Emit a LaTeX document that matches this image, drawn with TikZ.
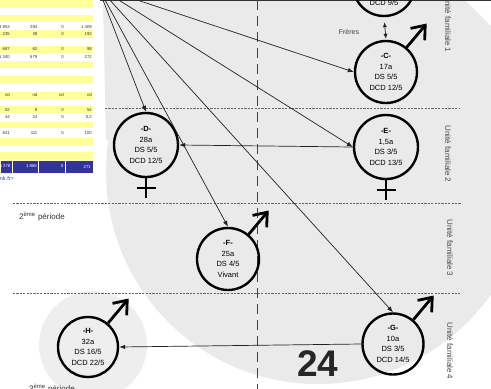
\documentclass[tikz,border=0pt]{standalone}
\usepackage{fontspec}
\setmainfont{Liberation Sans}
\usetikzlibrary{arrows.meta,calc}

\definecolor{tabyellow}{HTML}{FFFF99}
\definecolor{tabblue}{HTML}{333399}
\definecolor{linkblue}{HTML}{3344CC}
\definecolor{bgshade}{HTML}{EAEAEA}
\definecolor{bgshadeH}{HTML}{EEEEEE}
\definecolor{ink}{HTML}{222222}
\definecolor{sepgray}{HTML}{666666}
\definecolor{labgray}{HTML}{4A4A4A}

\tikzset{
  person/.style={circle, draw=black, line width=2.4pt, minimum size=62pt,
    inner sep=0pt, align=center, font=\fontsize{7.5}{10.5}\selectfont},
  sym/.style={line width=2.8pt, draw=black},
  link/.style={draw=ink, line width=0.7pt, -{Latex[length=6pt,width=4.5pt]}},
  sep/.style={draw=sepgray, line width=0.8pt, dash pattern=on 2.2pt off 1.2pt},
  axis/.style={draw=ink!85, line width=0.9pt, dash pattern=on 10pt off 6pt},
  unit/.style={rotate=-90, text=labgray, font=\fontsize{8}{9}\selectfont},
  cell/.style={anchor=east, inner sep=0pt, font=\fontsize{4.3}{5}\selectfont, text=black!80},
  wcell/.style={cell, text=white},
}

% male sign: shaft and open head leaving the circle up-right
\newcommand\malesign[1]{%
  \coordinate (#1-tip) at ($(#1.center)!61pt!(#1.50)$);
  \draw[sym] (#1.50) -- (#1-tip);
  \draw[sym, line join=miter] ($(#1-tip)!15pt!38:(#1.center)$) -- (#1-tip)
     -- ($(#1-tip)!15pt!-38:(#1.center)$);
}
% female sign: cross hanging below the circle
\newcommand\femalesign[1]{%
  \draw[sym, line width=2.5pt] (#1.south) -- ++(0,20);
  \draw[sym, line width=2.5pt] ($(#1.south)+(-9.5,10)$) -- ++(19,0);
}

\begin{document}
\begin{tikzpicture}[x=1pt,y=-1pt]
\useasboundingbox (0,0) rectangle (491,389);
\clip (0,0) rectangle (491,389);

% shaded backdrop
\fill[bgshade] (318,172) circle[radius=212];
\fill[bgshade] (103,0) -- (465,0) -- (491,26) -- (491,120) -- (106,140) -- cycle;
\fill[bgshadeH] (93,345) circle[radius=54];
\draw[black!80, line width=1.6pt] (100,0.5) -- (491,0.5);

% statistics table on the left
\foreach \a/\b in {0/8,15/22,30/38,46/53,61/68,76/83,92/99,106/113,122/128,138/146,152/159}
  \fill[tabyellow] (0,\a) rectangle (93,\b);
\foreach \y/\p/\q/\r/\s in {27/4 953/294/0/1 409, 34/235/38/0/192, 49/687/62/0/98,
    57/5 340/679/0/272, 95/nd/nd/nd/nd, 110/52/9/0/54, 117/44/24/0/{0,2}, 133/841/111/0/100}{
  \node[cell] (t\y-1) at (10,\y) {\p};
  \node[cell] (t\y-2) at (37.5,\y) {\q};
  \node[cell] (t\y-3) at (64,\y) {\r};
  \node[cell] (t\y-4) at (92,\y) {\s};
}
\fill[tabblue] (0,160) rectangle (93,173);
\draw[tabyellow!60!white, line width=0.6pt] (0,160) rectangle (93,173)
  (12,160) -- (12,173) (38.5,160) -- (38.5,173) (65,160) -- (65,173);
\node[wcell] (tot-1) at (10.5,166.5) {5 278};
\node[wcell] (tot-2) at (37,166.5) {1 865};
\node[wcell] (tot-3) at (63.5,166.5) {0};
\node[wcell] (tot-4) at (91,166.5) {271};
\node[anchor=west, inner sep=0pt, font=\fontsize{5.5}{6}\selectfont, text=linkblue]
  (url) at (-1.5,179) {ink.fr>};

% period separators and time axis
\draw[sep] (105,108) -- (460,108);
\draw[sep] (13,203) -- (461,203);
\draw[sep] (13,293) -- (460,293);
\draw[axis] (257,0) -- (257,389);

% people
\node[person] (B) at (384,-15) {};
\node[font=\fontsize{7.5}{9}\selectfont] (Btxt) at (384,3) {DCD 9/5};
\node[person] (C) at (386,72) {\textbf{-C-}\\17a\\DS 5/5\\DCD 12/5};
\node[person, minimum size=64pt] (D) at (146,145) {\textbf{-D-}\\28a\\DS 5/5\\DCD 12/5};
\node[person, minimum size=64pt] (E) at (386,147) {\textbf{-E-}\\1,5a\\DS 3/5\\DCD 13/5};
\node[person] (F) at (228,259) {\textbf{-F-}\\25a\\DS 4/5\\Vivant};
\node[person, minimum size=61pt] (G) at (393,344) {\textbf{-G-}\\10a\\DS 3/5\\DCD 14/5};
\node[person, minimum size=60pt] (H) at (88,347) {\textbf{-H-}\\32a\\DS 16/5\\DCD 22/5};

\malesign{C}
\malesign{F}
\malesign{G}
\malesign{H}
\femalesign{D}
\femalesign{E}

% contamination links
\coordinate (src) at (98,-13);
\draw[link] (src) -- (D.north);
\draw[link] (src) -- (F.north);
\draw[link] (src) -- (G.north);
\draw[link] (src) -- (E.west);
\draw[link] (src) -- (C.west);
\draw[link] (E.west) -- (D.east);
\draw[link] (G.west) -- (H.east);
\draw[link, {Latex[length=5pt,width=4pt]}-{Latex[length=5pt,width=4pt]}, shorten <=5pt, shorten >=1pt]
  (B.south) -- (C.north);
\node[text=black!75, font=\fontsize{7}{8}\selectfont] (freres) at (349,32) {Frères};

% labels
\node[unit] (uf1) at (448,24) {Unité familiale 1};
\node[unit] (uf2) at (448,154) {Unité familiale 2};
\node[unit] (uf3) at (450,248) {Unité familiale 3};
\node[unit] (uf4) at (450,351) {Unité familiale 4};
\node[anchor=west, inner sep=0pt, text=black!80, font=\fontsize{8}{9}\selectfont]
  (p2) at (19,217) {2\textsuperscript{ème} période};
\node[anchor=base west, inner sep=0pt, text=black!80, font=\fontsize{8}{9}\selectfont]
  (p3) at (29,391) {3\textsuperscript{ème} période};
\node[text=black!85, font=\bfseries\fontsize{37}{40}\selectfont] (num) at (318,364) {24};
\end{tikzpicture}
\end{document}
